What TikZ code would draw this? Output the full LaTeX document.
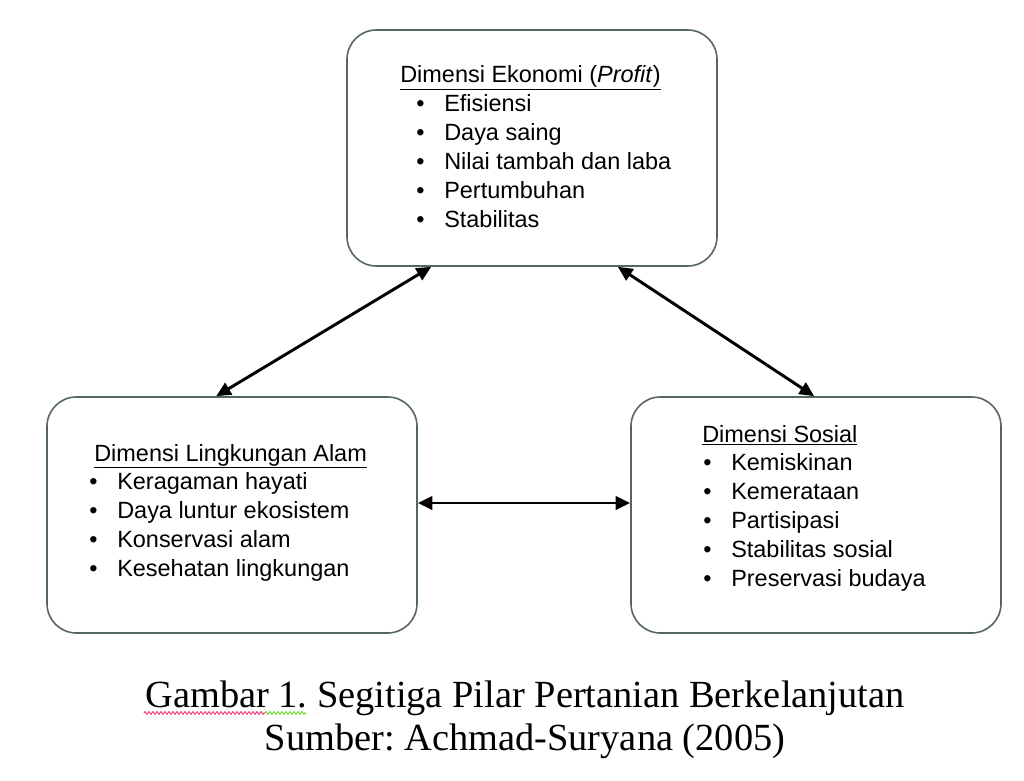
\documentclass[tikz,border=0pt]{standalone}
\usepackage{fontspec}
\setmainfont{Liberation Serif}
\newfontfamily\arial{Liberation Sans}
\frenchspacing
\usepackage{xcolor}
\definecolor{garisbox}{RGB}{85,100,100}
\definecolor{merahcek}{RGB}{235,70,120}
\definecolor{hijaucek}{RGB}{120,215,60}
\usepackage{tikz}
\usetikzlibrary{arrows.meta, positioning, calc, decorations.pathmorphing}
\newcommand{\butir}[1]{\makebox[21pt][l]{\textbullet}#1}
\tikzset{
  kotak/.style={
    rectangle, draw=garisbox, line width=1.2pt, rounded corners=22pt,
    minimum width=277.5pt, minimum height=177pt
  },
  judulbox/.style={
    inner sep=0pt, anchor=base west,
    font=\arial\fontsize{17.6}{21.75}\selectfont
  },
  isibox/.style={
    inner sep=0pt, anchor=north west, align=left,
    font=\arial\fontsize{17.6}{21.75}\selectfont
  },
  keterangan/.style={
    inner sep=0pt, anchor=base,
    font=\fontsize{28.8}{34}\selectfont
  },
  panah/.style={line width=2.2pt, {Triangle[length=11pt,width=10pt]}-{Triangle[length=11pt,width=10pt]}},
  cekejaan/.style={line width=0.8pt, decorate, decoration={zigzag, segment length=3pt, amplitude=1pt}},
}
\begin{document}
\begin{tikzpicture}[x=0.75pt, y=-0.75pt]
  \useasboundingbox (0,0) rectangle (1024,781);

  % tiga pilar
  \node (ekonomi) [kotak] at (532,148) {};
  \node (alam)    [kotak] at (232,515) {};
  \node (sosial)  [kotak] at (816,515) {};

  \node (ekojudul)  [judulbox] at (400,83)  {\underline{Dimensi Ekonomi (\textit{Profit})}};
  \node (ekoisi)    [isibox]   at (416,94)  {\butir{Efisiensi}\\ \butir{Daya saing}\\ \butir{Nilai tambah dan laba}\\ \butir{Pertumbuhan}\\ \butir{Stabilitas}};
  \node (alamjudul) [judulbox] at (94,461)  {\underline{Dimensi Lingkungan Alam}};
  \node (alamisi)   [isibox]   at (89,472)  {\butir{Keragaman hayati}\\ \butir{Daya luntur ekosistem}\\ \butir{Konservasi alam}\\ \butir{Kesehatan lingkungan}};
  \node (sosjudul)  [judulbox] at (702,442) {\underline{Dimensi Sosial}};
  \node (sosisi)    [isibox]   at (703,453) {\butir{Kemiskinan}\\ \butir{Kemerataan}\\ \butir{Partisipasi}\\ \butir{Stabilitas sosial}\\ \butir{Preservasi budaya}};

  \draw [panah] ($(ekonomi.south west)+(85,0)$)  -- ($(alam.north west)+(170,0)$);
  \draw [panah] ($(ekonomi.south east)+(-100,0)$) -- ($(sosial.north west)+(184,0)$);
  \draw [panah] ($(alam.east)+(0,-12)$) -- ($(sosial.west)+(0,-12)$);

  % keterangan gambar
  \node (gambar) [keterangan] at (525,707) {Gambar 1. Segitiga Pilar Pertanian Berkelanjutan};
  \node (sumber) [keterangan] at (525,750) {Sumber: Achmad-Suryana (2005)};
  \draw [cekejaan, merahcek] (144,713) -- (265,713);
  \draw [cekejaan, hijaucek] (265,713) -- (306,713);
\end{tikzpicture}
\end{document}
